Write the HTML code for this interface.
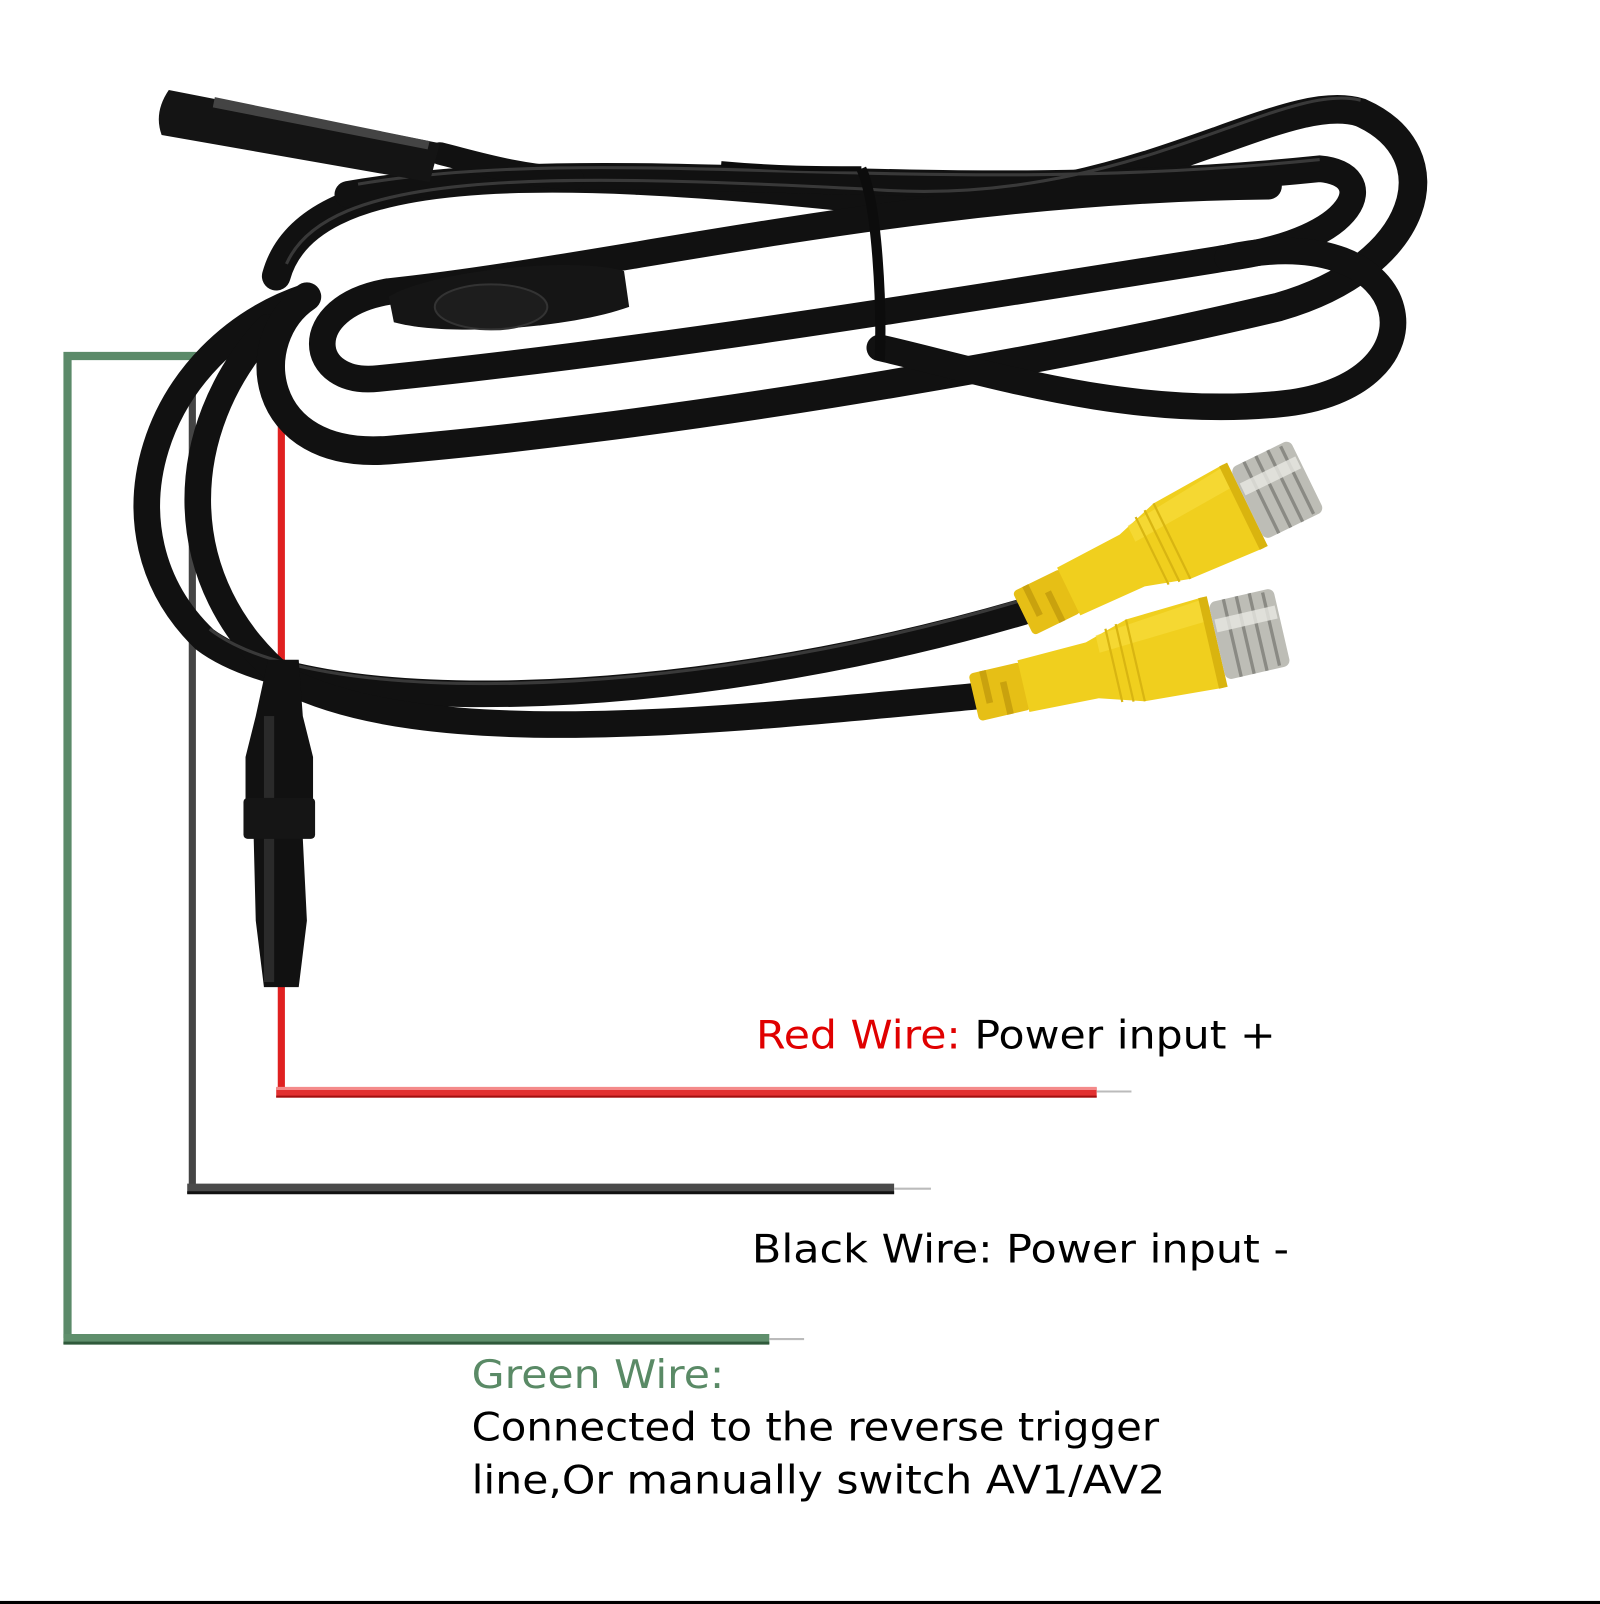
<!DOCTYPE html>
<html><head><meta charset="utf-8"><style>
html,body{margin:0;padding:0;background:#fff;}
svg{display:block;}
</style></head><body>
<svg width="1600" height="1604" viewBox="0 0 1564 1568" preserveAspectRatio="none" xmlns="http://www.w3.org/2000/svg">
<defs>
<g id="conn">
  <rect x="0" y="-22" width="48" height="44" rx="4" fill="#e6bf16"/>
  <rect x="10" y="-22" width="6" height="30" fill="#c9a20e"/>
  <rect x="26" y="-8" width="6" height="30" fill="#c9a20e"/>
  <path d="M46,-24 L110,-26 L150,-38 L222,-42 L222,42 L150,38 L110,26 L46,24 Z" fill="#f0cf1e"/>
  <path d="M120,-30 L220,-40 L220,-20 L120,-14 Z" fill="#f7dc3a" opacity="0.7"/>
  <line x1="130" y1="-34" x2="130" y2="34" stroke="#d8b512" stroke-width="2"/>
  <line x1="140" y1="-36" x2="140" y2="36" stroke="#d8b512" stroke-width="2"/>
  <line x1="150" y1="-38" x2="150" y2="38" stroke="#d8b512" stroke-width="2"/>
  <rect x="218" y="-42" width="8" height="84" fill="#d9b40f"/>
  <rect x="226" y="-36" width="60" height="72" rx="6" fill="#bdbdb6"/>
  <line x1="240" y1="-36" x2="240" y2="36" stroke="#8a8a84" stroke-width="3"/>
  <line x1="252" y1="-36" x2="252" y2="36" stroke="#8a8a84" stroke-width="3"/>
  <line x1="264" y1="-36" x2="264" y2="36" stroke="#8a8a84" stroke-width="3"/>
  <line x1="276" y1="-34" x2="276" y2="34" stroke="#8a8a84" stroke-width="3"/>
  <rect x="228" y="-20" width="56" height="12" fill="#e8e8e4" opacity="0.8"/>
</g>
</defs>

<g fill="none">
  <path d="M66,1308 L66,348 L272,348" stroke="#5b8a69" stroke-width="8"/>
  <line x1="62" y1="1309" x2="752" y2="1309" stroke="#5f8f6c" stroke-width="10"/>
  <line x1="62" y1="1313" x2="752" y2="1313" stroke="#2f5a3b" stroke-width="3"/>
  <line x1="752" y1="1309" x2="786" y2="1309" stroke="#bbb" stroke-width="2"/>
  <line x1="188" y1="380" x2="188" y2="1160" stroke="#444" stroke-width="7"/>
  <line x1="183" y1="1162" x2="874" y2="1162" stroke="#4a4a4a" stroke-width="10"/>
  <line x1="183" y1="1166" x2="874" y2="1166" stroke="#111" stroke-width="3"/>
  <line x1="874" y1="1162" x2="910" y2="1162" stroke="#bbb" stroke-width="2"/>
  <line x1="275" y1="350" x2="275" y2="1066" stroke="#e02020" stroke-width="7"/>
  <line x1="270" y1="1068" x2="1072" y2="1068" stroke="#e23030" stroke-width="10"/>
  <line x1="270" y1="1064" x2="1072" y2="1064" stroke="#f48a8a" stroke-width="3"/>
  <line x1="270" y1="1072" x2="1072" y2="1072" stroke="#a01010" stroke-width="2"/>
  <line x1="1072" y1="1067" x2="1106" y2="1067" stroke="#bbb" stroke-width="2"/>
</g>

<g fill="none" stroke="#111" stroke-linecap="round">
  <path d="M300,290 C150,340 90,520 200,625 C300,700 650,700 1000,598" stroke-width="26"/>
  <path d="M262,320 C170,420 165,570 280,665 C420,735 700,705 960,680" stroke-width="26"/>
  <path d="M270,270 C300,160 520,160 850,195 C1100,215 1250,85 1330,110 C1420,150 1390,260 1250,300 C1000,360 620,420 380,440 C250,450 240,330 300,290" stroke-width="28"/>
  <path d="M340,190 C600,145 900,205 1290,165 C1350,170 1330,235 1200,252 C900,300 620,345 370,370 C300,378 290,300 380,285 C600,262 900,185 1240,182" stroke-width="26"/>
  <path d="M1200,252 C1390,210 1420,380 1250,395 C1100,410 950,360 860,340" stroke-width="26"/>
  <path d="M430,150 C470,160 500,170 560,175" stroke-width="22"/>
</g>
<g fill="none" stroke="#555" stroke-width="3" opacity="0.6">
  <path d="M280,258 C320,168 520,168 850,185 C1100,205 1250,78 1330,98"/>
  <path d="M350,180 C600,138 900,196 1290,156"/>
  <path d="M205,615 C300,690 650,690 995,588"/>
</g>
<path d="M165,88 L430,140 L420,178 L158,132 Q150,110 165,88 Z" fill="#141414"/>
<path d="M210,95 L420,138 L418,146 L208,105 Z" fill="#444"/>
<path d="M380,290 C420,265 560,250 610,265 L615,300 C560,320 440,330 385,315 Z" fill="#151515"/>
<ellipse cx="480" cy="300" rx="55" ry="22" fill="#1d1d1d" stroke="#333" stroke-width="2"/>
<path d="M842,165 C858,200 862,300 860,352" stroke="#0c0c0c" stroke-width="10" fill="none"/>
<path d="M705,160 C760,165 800,165 842,165" stroke="#0c0c0c" stroke-width="5" fill="none"/>
<path d="M262,645 L292,645 L296,700 L306,740 L306,780 L296,820 L300,900 L292,965 L258,965 L250,900 L248,820 L240,780 L240,740 L250,700 Z" fill="#111"/>
<rect x="258" y="700" width="10" height="260" fill="#2a2a2a"/>
<rect x="238" y="780" width="70" height="40" rx="4" fill="#151515"/>

<g transform="translate(1000,600) rotate(-26) scale(1.08)"><use href="#conn"/></g>
<g transform="translate(952,682) rotate(-13) scale(1.08)"><use href="#conn"/></g>

<g font-family="'DejaVu Sans', 'Liberation Sans', sans-serif" font-size="38">
  <text x="739" y="1025" textLength="508" lengthAdjust="spacingAndGlyphs"><tspan fill="#e00000">Red Wire:</tspan><tspan fill="#000"> Power input +</tspan></text>
  <text x="735" y="1234" fill="#000" textLength="525" lengthAdjust="spacingAndGlyphs">Black Wire: Power input -</text>
  <text x="461" y="1357" fill="#5a8a66" textLength="247" lengthAdjust="spacingAndGlyphs">Green Wire:</text>
  <text x="461" y="1408" fill="#000" textLength="672" lengthAdjust="spacingAndGlyphs">Connected to the reverse trigger</text>
  <text x="461" y="1460" fill="#000" textLength="678" lengthAdjust="spacingAndGlyphs">line,Or manually switch AV1/AV2</text>
</g>
<rect x="0" y="1565" width="1564" height="3" fill="#000"/>
</svg>
</body></html>
